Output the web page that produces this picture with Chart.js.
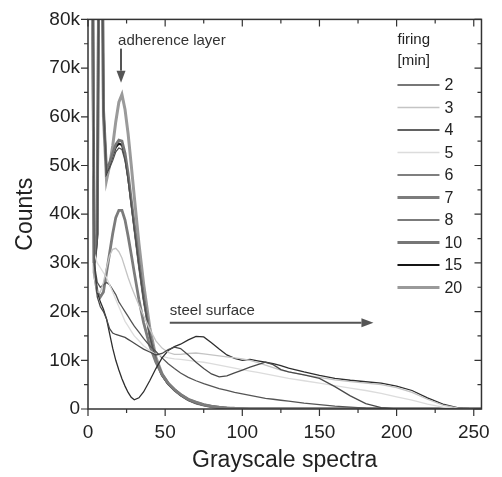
<!DOCTYPE html>
<html>
<head>
<meta charset="utf-8">
<script src="https://cdn.jsdelivr.net/npm/chart.js@4.4.1/dist/chart.umd.min.js"></script>
<style>
  html, body { margin: 0; padding: 0; background: #fff; }
  canvas { display: block; }
</style>
</head>
<body>
<canvas id="spectra" width="502" height="477"></canvas>
<script>
"use strict";

// Grayscale level shared by every curve
const grayLevels = [
    0, 2, 4, 6, 8,
    10, 12, 14, 16, 18,
    20, 22, 24, 26, 28,
    30, 33, 36, 40, 44,
    48, 52, 56, 60, 65,
    70, 75, 80, 85, 90,
    95, 100, 105, 110, 115,
    120, 125, 130, 140, 150,
    160, 170, 180, 190, 200,
    210, 220, 230, 240, 250,
    255
];

// Counts (in thousands) per firing time
const counts2 = [
    100, 140, 30, 23, 21,
    20, 18.5, 16.5, 15.6, 15.3,
    15.1, 14.9, 14.7, 14.3, 13.9,
    13.5, 12.9, 12.3, 11.7, 11.1,
    11.4, 12.2, 12.7, 12.4, 11.1,
    9.6, 8.3, 7.2, 6.6, 6.8,
    7.4, 8, 8.6, 9.1, 9.6,
    9.1, 8.1, 7.6, 7, 6.3,
    4.6, 2.7, 1.1, 0.3, 0,
    0, 0, 0, 0, 0,
    0
];
const counts3 = [
    90, 130, 27, 24, 24,
    26, 29, 31.5, 32.8, 33,
    32.3, 31, 29, 27, 25.2,
    23.6, 21.3, 19.2, 16.4, 14,
    12.5, 11.6, 11.2, 11.2, 11.4,
    11.5, 11.3, 11.1, 10.9, 10.7,
    10.5, 10.3, 10, 9.5, 9,
    8.5, 8, 7.6, 7, 6.5,
    6, 5.6, 5.3, 5, 4.4,
    3.4, 2, 0.8, 0.2, 0,
    0
];
const counts4 = [
    100, 140, 30, 24, 22,
    20.5, 18.5, 15.5, 12.5, 10,
    8, 6.2, 4.7, 3.4, 2.4,
    1.9, 2.3, 3.5, 5.8, 8.3,
    10.5, 12, 12.8, 13.3, 14.2,
    14.9, 14.8, 13.6, 12.3, 11.1,
    10.4, 10, 10.2, 9.9, 9.6,
    9.3, 8.9, 8.4, 7.6, 6.9,
    6.3, 5.9, 5.6, 5.3, 4.7,
    3.8, 2.3, 1, 0.25, 0,
    0
];
const counts5 = [
    90, 120, 32, 30, 29,
    28, 27, 25.5, 24, 22.5,
    21, 19.5, 18, 17, 16,
    15, 14, 13, 12, 11.2,
    10.8, 10.5, 10.3, 10.2, 10,
    9.8, 9.6, 9.3, 9, 8.7,
    8.4, 8.1, 7.8, 7.5, 7.2,
    6.9, 6.6, 6.3, 5.8, 5.3,
    4.8, 4.3, 3.8, 3.2, 2.5,
    1.8, 1, 0.4, 0.1, 0,
    0
];
const counts6 = [
    100, 140, 30, 26, 25,
    25.5, 26, 25.5, 24.5, 23.5,
    22, 21, 20, 19, 18,
    17, 15.8, 14.5, 13, 11.8,
    10.5, 9.3, 8.3, 7.4, 6.5,
    5.8, 5.2, 4.7, 4.2, 3.8,
    3.4, 3.1, 2.8, 2.5, 2.2,
    2, 1.8, 1.6, 1.2, 0.9,
    0.6, 0.4, 0.2, 0.1, 0,
    0, 0, 0, 0, 0,
    0
];
const counts7 = [
    100, 140, 28, 24, 23,
    24, 28, 32, 36, 39.3,
    40.8, 40.8, 38.8, 35.5, 31.8,
    28, 22.5, 17.8, 13, 9.6,
    7.1, 5.3, 4, 3, 2,
    1.4, 0.9, 0.6, 0.4, 0.25,
    0.15, 0.1, 0, 0, 0,
    0, 0, 0, 0, 0,
    0, 0, 0, 0, 0,
    0, 0, 0, 0, 0,
    0
];
const counts8 = [
    100, 150, 28, 34, 150,
    62, 48.5, 49.5, 51, 52.8,
    53.6, 53.3, 51, 47, 42,
    37, 29.5, 22.5, 15, 9.8,
    6.8, 5, 3.8, 2.8, 1.8,
    1.2, 0.8, 0.5, 0.3, 0.15,
    0.05, 0, 0, 0, 0,
    0, 0, 0, 0, 0,
    0, 0, 0, 0, 0,
    0, 0, 0, 0, 0,
    0
];
const counts10 = [
    100, 150, 30, 36, 150,
    62, 49, 50.5, 52.5, 54.3,
    55.2, 55, 52.5, 48.3, 43,
    37.8, 30, 23, 15.3, 10,
    7, 5.2, 4, 2.9, 1.9,
    1.3, 0.85, 0.5, 0.3, 0.15,
    0.05, 0, 0, 0, 0,
    0, 0, 0, 0, 0,
    0, 0, 0, 0, 0,
    0, 0, 0, 0, 0,
    0
];
const counts15 = [
    100, 150, 30, 36, 150,
    62, 48.5, 50, 52, 53.7,
    54.5, 54.2, 51.8, 47.6, 42.5,
    37.4, 29.8, 22.8, 15.2, 10,
    7, 5.1, 3.9, 2.9, 1.9,
    1.2, 0.8, 0.5, 0.3, 0.15,
    0.05, 0, 0, 0, 0,
    0, 0, 0, 0, 0,
    0, 0, 0, 0, 0,
    0, 0, 0, 0, 0,
    0
];
const counts20 = [
    100, 150, 30, 36, 150,
    60, 47, 50, 54, 59,
    63, 64.6, 61.5, 56.5, 50.2,
    43.6, 34, 25.8, 16.8, 10.6,
    7.2, 5.2, 3.9, 2.9, 1.9,
    1.2, 0.8, 0.5, 0.3, 0.15,
    0.05, 0, 0, 0, 0,
    0, 0, 0, 0, 0,
    0, 0, 0, 0, 0,
    0, 0, 0, 0, 0,
    0
];

const firingTimes = ['2', '3', '4', '5', '6', '7', '8', '10', '15', '20'];
const seriesCounts = [counts2, counts3, counts4, counts5, counts6, counts7, counts8, counts10, counts15, counts20];

// line styles, same order as firingTimes
const lineColors = ['#4a4a4a', '#c4c4c4', '#2e2e2e', '#dcdcdc', '#555555', '#7c7c7c', '#4f4f4f', '#767676', '#151515', '#9a9a9a'];
const lineWidths = [1.3, 1.3, 1.3, 1.3, 1.3, 2.8, 1.3, 2.8, 2, 3];

const FONT = '"Liberation Sans", Arial, Helvetica, sans-serif';
const INK = '#222';

function drawArrow(ctx, x0, y0, x1, y1) {
    const ang = Math.atan2(y1 - y0, x1 - x0);
    const head = 12, half = 4.5;
    const c = Math.cos(ang), s = Math.sin(ang);
    ctx.beginPath();
    ctx.moveTo(x0, y0);
    ctx.lineTo(x1 - head * c, y1 - head * s);
    ctx.stroke();
    ctx.beginPath();
    ctx.moveTo(x1, y1);
    ctx.lineTo(x1 - head * c + half * s, y1 - head * s - half * c);
    ctx.lineTo(x1 - head * c - half * s, y1 - head * s + half * c);
    ctx.closePath();
    ctx.fill();
}

// Box frame with minor/major ticks (outside bottom/left, inside top/right)
const frameTicks = {
    id: 'frameTicks',
    afterDatasetsDraw(chart) {
        const { ctx, chartArea: a, scales: { x, y } } = chart;
        ctx.save();
        ctx.strokeStyle = '#333';
        ctx.lineWidth = 1.5;
        ctx.strokeRect(a.left, a.top, a.right - a.left, a.bottom - a.top);
        ctx.lineWidth = 1.2;
        ctx.beginPath();
        for (let v = 0; v <= x.max; v += 25) {
            const px = x.getPixelForValue(v);
            const len = v % 50 === 0 ? 7 : 4;
            ctx.moveTo(px, a.bottom); ctx.lineTo(px, a.bottom + len);
            ctx.moveTo(px, a.top); ctx.lineTo(px, a.top + len);
        }
        for (let v = 0; v <= y.max; v += 5) {
            const py = y.getPixelForValue(v);
            const len = v % 10 === 0 ? 7 : 4;
            ctx.moveTo(a.left, py); ctx.lineTo(a.left - len, py);
            ctx.moveTo(a.right, py); ctx.lineTo(a.right - len, py);
        }
        ctx.stroke();
        ctx.restore();
    }
};

// Text labels with arrows, placed in data coordinates
const annotations = {
    id: 'annotations',
    afterDatasetsDraw(chart) {
        const { ctx, scales: { x, y } } = chart;
        ctx.save();
        ctx.font = '15px ' + FONT;
        ctx.fillStyle = '#333';
        ctx.strokeStyle = '#555';
        ctx.lineWidth = 2;
        ctx.textBaseline = 'middle';
        ctx.fillText('adherence layer', x.getPixelForValue(19.5), y.getPixelForValue(75.6));
        ctx.fillStyle = '#555';
        drawArrow(ctx, x.getPixelForValue(21.4), y.getPixelForValue(74), x.getPixelForValue(21.4), y.getPixelForValue(67));
        ctx.fillStyle = '#333';
        ctx.fillText('steel surface', x.getPixelForValue(53), y.getPixelForValue(20.1));
        ctx.fillStyle = '#555';
        drawArrow(ctx, x.getPixelForValue(53), y.getPixelForValue(17.7), x.getPixelForValue(185), y.getPixelForValue(17.7));
        ctx.restore();
    }
};

// Legend in the top-right corner of the plot
const firingLegend = {
    id: 'firingLegend',
    afterDraw(chart) {
        const { ctx, chartArea: a } = chart;
        const left = a.right - 84;
        ctx.save();
        ctx.fillStyle = INK;
        ctx.textBaseline = 'middle';
        ctx.font = '15px ' + FONT;
        ctx.fillText('firing', left, 40);
        ctx.fillText('[min]', left, 61);
        ctx.font = '16px ' + FONT;
        chart.data.datasets.forEach((ds, i) => {
            const yy = 85 + i * 22.5;
            ctx.strokeStyle = ds.borderColor;
            ctx.lineWidth = ds.borderWidth;
            ctx.beginPath();
            ctx.moveTo(left, yy);
            ctx.lineTo(left + 42, yy);
            ctx.stroke();
            ctx.fillText(ds.label, left + 47, yy + 1);
        });
        ctx.restore();
    }
};

const datasets = firingTimes.map((t, i) => ({
    label: t,
    data: grayLevels.map((g, j) => ({ x: g, y: seriesCounts[i][j] })),
    borderColor: lineColors[i],
    borderWidth: lineWidths[i],
    pointRadius: 0,
    fill: false,
    tension: 0
}));

new Chart(document.getElementById('spectra').getContext('2d'), {
    type: 'line',
    data: { datasets },
    options: {
        responsive: false,
        animation: false,
        layout: { padding: { left: 0, top: 15, right: 20, bottom: 0 } },
        plugins: {
            legend: { display: false },
            tooltip: { enabled: false }
        },
        scales: {
            x: {
                type: 'linear',
                min: 0,
                max: 255,
                grid: { display: false, drawTicks: false },
                border: { display: false },
                ticks: {
                    stepSize: 50,
                    includeBounds: false,
                    padding: 12,
                    color: INK,
                    font: { family: FONT, size: 19 },
                    maxRotation: 0,
                    callback: (v) => (v % 50 === 0 ? String(v) : '')
                },
                title: {
                    display: true,
                    text: 'Grayscale spectra',
                    color: INK,
                    font: { family: FONT, size: 23 },
                    padding: { top: 0, bottom: 3 }
                },
                afterFit: (scale) => { scale.height = 68; }
            },
            y: {
                min: 0,
                max: 80,
                grid: { display: false, drawTicks: false },
                border: { display: false },
                ticks: {
                    stepSize: 10,
                    padding: 8,
                    color: INK,
                    font: { family: FONT, size: 19 },
                    callback: (v) => (v === 0 ? '0' : v + 'k')
                },
                title: {
                    display: true,
                    text: 'Counts',
                    color: INK,
                    font: { family: FONT, size: 23 },
                    padding: { top: 12, bottom: 0 }
                },
                afterFit: (scale) => { scale.width = 88; }
            }
        }
    },
    plugins: [frameTicks, annotations, firingLegend]
});
</script>
</body>
</html>
